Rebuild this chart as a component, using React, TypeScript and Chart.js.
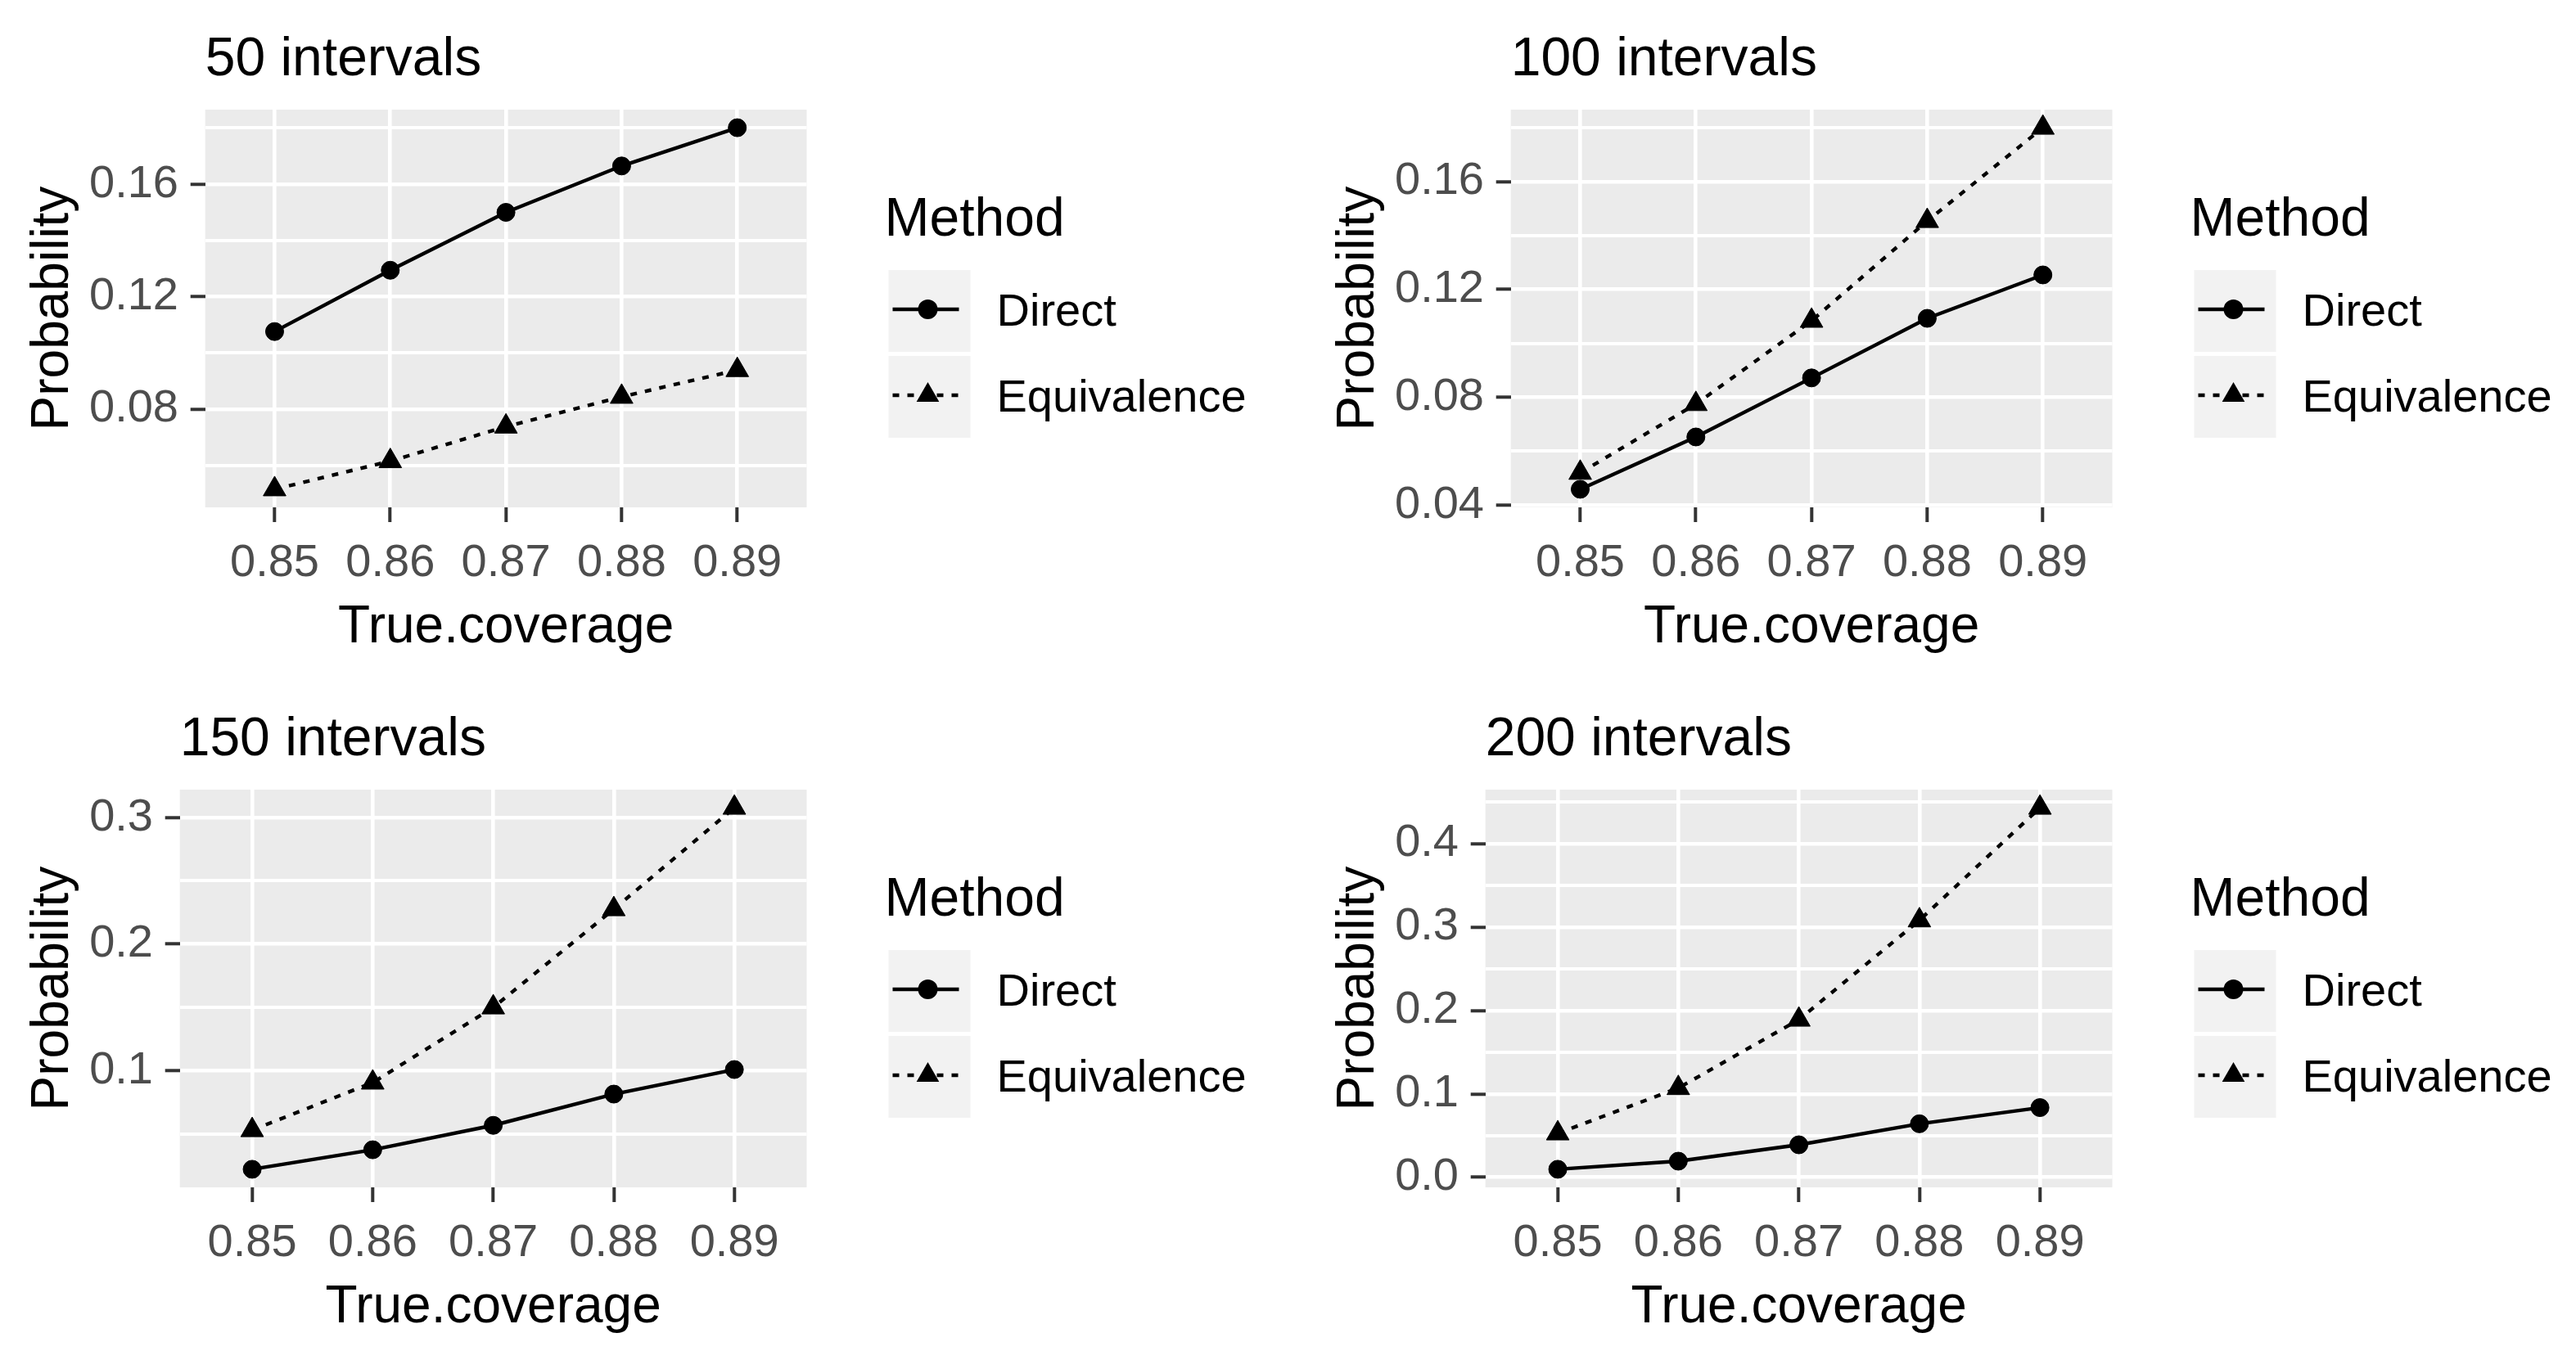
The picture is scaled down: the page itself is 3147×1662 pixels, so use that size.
import React, { useEffect, useRef } from "react";
import { Chart, registerables } from "chart.js";

Chart.register(...registerables);

// ---------------- data ----------------
const categories = ["0.85", "0.86", "0.87", "0.88", "0.89"];
const methods = ["Direct", "Equivalence"];
const panelTitles = ["50 intervals", "100 intervals", "150 intervals", "200 intervals"];

const direct50 = [0.1076, 0.1294, 0.15, 0.1665, 0.1801];
const equiv50 = [0.0515, 0.0615, 0.0738, 0.0844, 0.0939];
const direct100 = [0.0459, 0.0653, 0.0872, 0.1093, 0.1254];
const equiv100 = [0.052, 0.0775, 0.1084, 0.1454, 0.18];
const direct150 = [0.0221, 0.0375, 0.0568, 0.0815, 0.1009];
const equiv150 = [0.053, 0.0906, 0.15, 0.2276, 0.3078];
const direct200 = [0.0097, 0.0194, 0.039, 0.0642, 0.0836];
const equiv200 = [0.0527, 0.107, 0.189, 0.308, 0.443];

const directSeries = [direct50, direct100, direct150, direct200];
const equivSeries = [equiv50, equiv100, equiv150, equiv200];
const majorSteps = [0.04, 0.04, 0.1, 0.1];
const tickDecimals = [2, 2, 1, 1];

// ---------------- layout / style ----------------
const FONT = "'Liberation Sans', Arial, Helvetica, sans-serif";
const CELL_W = 1552;
const CELL_H = 831;
const PANEL_TOP = 134;
const PANEL_BOTTOM = 620;
const PANEL_RIGHT = 985.5;
const cellPos = [
  { left: 0, top: 0, panelLeft: 250.7 },
  { left: 1595, top: 0, panelLeft: 250.7 },
  { left: 0, top: 831, panelLeft: 219.7 },
  { left: 1595, top: 831, panelLeft: 219.7 },
];

Chart.defaults.font.family = FONT;

const isMajor = (v: number, step: number) => Math.abs(v / step - Math.round(v / step)) < 1e-6;

const ggPanelPlugin = {
  id: "ggPanel",
  beforeDraw(chart: any) {
    const { ctx, chartArea } = chart;
    ctx.save();
    ctx.fillStyle = "#EBEBEB";
    ctx.fillRect(chartArea.left, chartArea.top, chartArea.right - chartArea.left, chartArea.bottom - chartArea.top);
    ctx.restore();
  },
  afterDraw(chart: any) {
    const { ctx, chartArea } = chart;
    const opts = chart.options.plugins.ggPanel || {};
    ctx.save();
    // panel title
    ctx.fillStyle = "#000000";
    ctx.font = `66px ${FONT}`;
    ctx.textAlign = "left";
    ctx.textBaseline = "alphabetic";
    ctx.fillText(opts.title || "", chartArea.left, chartArea.top - 42);

    // legend
    const lx = chartArea.right + 95;
    ctx.fillText("Method", lx, chartArea.top + 154);
    chart.data.datasets.forEach((ds: any, i: number) => {
      const bx = chartArea.right + 100;
      const by = chartArea.top + 196 + i * 105;
      ctx.fillStyle = "#F2F2F2";
      ctx.fillRect(bx, by, 100, 100);
      const cy = by + 48;
      ctx.strokeStyle = "#000000";
      ctx.lineWidth = 4.4;
      ctx.setLineDash(ds.borderDash || []);
      ctx.beginPath();
      ctx.moveTo(bx + 5, cy);
      ctx.lineTo(bx + 86, cy);
      ctx.stroke();
      ctx.setLineDash([]);
      ctx.fillStyle = "#000000";
      const px = bx + 48;
      if (ds.pointStyle === "triangle") {
        const r = 16;
        ctx.beginPath();
        ctx.moveTo(px, cy - r);
        ctx.lineTo(px + r * Math.sin((2 * Math.PI) / 3), cy - r * Math.cos((2 * Math.PI) / 3));
        ctx.lineTo(px + r * Math.sin((4 * Math.PI) / 3), cy - r * Math.cos((4 * Math.PI) / 3));
        ctx.closePath();
        ctx.fill();
      } else {
        ctx.beginPath();
        ctx.arc(px, cy, 12, 0, Math.PI * 2);
        ctx.fill();
      }
      ctx.font = `56px ${FONT}`;
      ctx.textBaseline = "middle";
      ctx.fillText(ds.label, bx + 132, by + 53);
      ctx.font = `66px ${FONT}`;
      ctx.textBaseline = "alphabetic";
    });
    ctx.restore();
  },
};

function Panel({ index }: { index: number }) {
  const ref = useRef<HTMLCanvasElement | null>(null);
  useEffect(() => {
    if (!ref.current) return;
    const d = directSeries[index];
    const e = equivSeries[index];
    const all = [...d, ...e];
    const lo = Math.min(...all);
    const hi = Math.max(...all);
    const pad = (hi - lo) * 0.05;
    const major = majorSteps[index];
    const minor = major / 2;
    const dec = tickDecimals[index];
    const pos = cellPos[index];

    const chart = new Chart(ref.current, {
      type: "line",
      data: {
        datasets: [
          {
            label: methods[0],
            data: d.map((y, i) => ({ x: i, y })),
            borderColor: "#000000",
            backgroundColor: "#000000",
            borderWidth: 4.4,
            pointStyle: "circle",
            pointRadius: 11,
            pointBorderWidth: 1,
            pointBackgroundColor: "#000000",
            pointBorderColor: "#000000",
            tension: 0,
          },
          {
            label: methods[1],
            data: e.map((y, i) => ({ x: i, y })),
            borderColor: "#000000",
            backgroundColor: "#000000",
            borderWidth: 4.4,
            borderDash: [8, 10],
            pointStyle: "triangle",
            pointRadius: 16,
            pointBorderWidth: 1,
            pointBackgroundColor: "#000000",
            pointBorderColor: "#000000",
            tension: 0,
          },
        ],
      },
      options: {
        animation: false,
        responsive: false,
        devicePixelRatio: 1,
        events: [],
        layout: { padding: { left: 0, top: PANEL_TOP, right: CELL_W - PANEL_RIGHT, bottom: 0 } },
        plugins: {
          legend: { display: false },
          tooltip: { enabled: false },
          title: { display: false },
          ggPanel: { title: panelTitles[index] },
        } as any,
        scales: {
          x: {
            type: "linear",
            min: -0.6,
            max: categories.length - 0.4,
            afterFit: (s: any) => {
              s.height = CELL_H - PANEL_BOTTOM;
            },
            afterBuildTicks: (s: any) => {
              s.ticks = categories.map((_, i) => ({ value: i }));
            },
            ticks: {
              autoSkip: false,
              maxRotation: 0,
              padding: 17,
              color: "#4D4D4D",
              font: { size: 56 },
              callback: (v: any) => categories[Math.round(Number(v))] ?? "",
            },
            grid: { color: "#FFFFFF", lineWidth: 4.6, tickColor: "#333333", tickLength: 18, tickWidth: 4 },
            border: { display: false },
            title: {
              display: true,
              text: "True.coverage",
              color: "#000000",
              font: { size: 64 },
              padding: { top: 0, bottom: 25 },
            },
          },
          y: {
            type: "linear",
            min: lo - pad,
            max: hi + pad,
            afterFit: (s: any) => {
              s.width = pos.panelLeft;
            },
            ticks: {
              stepSize: minor,
              autoSkip: false,
              includeBounds: false,
              padding: 14.7,
              color: "#4D4D4D",
              font: { size: 56 },
              callback: (v: any) => (isMajor(Number(v), major) ? Number(v).toFixed(dec) : ""),
            },
            grid: {
              color: "#FFFFFF",
              lineWidth: (c: any) => (c.tick && isMajor(c.tick.value, major) ? 4.6 : 4.0),
              tickColor: (c: any) => (c.tick && isMajor(c.tick.value, major) ? "#333333" : "rgba(0,0,0,0)"),
              tickLength: 18,
              tickWidth: 4,
            },
            border: { display: false },
            title: {
              display: true,
              text: "Probability",
              color: "#000000",
              font: { size: 64 },
              padding: { top: 27, bottom: 0 },
            },
          },
        },
      } as any,
      plugins: [ggPanelPlugin],
    });
    return () => chart.destroy();
  }, [index]);

  const pos = cellPos[index];
  return (
    <canvas
      ref={ref}
      width={CELL_W}
      height={CELL_H}
      style={{ position: "absolute", left: pos.left, top: pos.top, width: CELL_W, height: CELL_H }}
    />
  );
}

export default function App() {
  return (
    <div style={{ position: "absolute", left: 0, top: 0, width: 3147, height: 1662, background: "#FFFFFF", overflow: "hidden" }}>
      {panelTitles.map((_, i) => (
        <Panel key={i} index={i} />
      ))}
    </div>
  );
}
